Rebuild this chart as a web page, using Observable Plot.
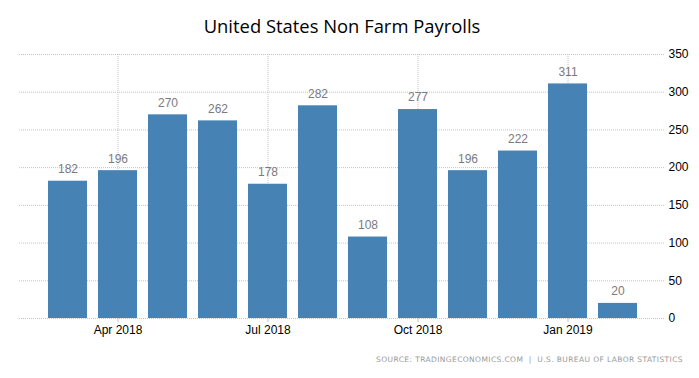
<!DOCTYPE html>
<html>
<head>
<meta charset="utf-8">
<script src="https://cdn.jsdelivr.net/npm/d3@7"></script>
<script src="https://cdn.jsdelivr.net/npm/@observablehq/plot@0.6"></script>
<style>
  html, body { margin: 0; padding: 0; background: #fff; }
  #wrap { width: 699px; height: 378px; position: relative; overflow: hidden; }
  #title { height: 40px; width: 684px; text-align: center; font-family: "Open Sans", sans-serif; font-size: 18.4px; line-height: 20px; color: #000; box-sizing: border-box; padding-top: 16px; }
  #caption { position: absolute; right: 16px; top: 355px; font-family: "DejaVu Sans", sans-serif; font-size: 7.5px; letter-spacing: 0.4px; color: #999; white-space: pre; }
  svg { display: block; }
</style>
</head>
<body>
<div id="wrap">
  <div id="title">United States Non Farm Payrolls</div>
  <div id="chart"></div>
  <div id="caption">SOURCE: TRADINGECONOMICS.COM  |  U.S. BUREAU OF LABOR STATISTICS</div>
</div>
<script>
const months = ["2018-03","2018-04","2018-05","2018-06","2018-07","2018-08","2018-09","2018-10","2018-11","2018-12","2019-01","2019-02"];
const payrolls = [182, 196, 270, 262, 178, 282, 108, 277, 196, 222, 311, 20];
const tickMonths = ["2018-04","2018-07","2018-10","2019-01"];
const tickLabels = ["Apr 2018","Jul 2018","Oct 2018","Jan 2019"];
const yTicks = [0, 50, 100, 150, 200, 250, 300, 350];

const data = months.map((m, i) => ({month: m, value: payrolls[i]}));
const labelOf = new Map(tickMonths.map((m, i) => [m, tickLabels[i]]));

const chart = Plot.plot({
  width: 699,
  height: 303,
  marginTop: 14,
  marginBottom: 25,
  marginLeft: 19,
  marginRight: 34,
  style: {fontFamily: "'Liberation Sans', Arial, sans-serif", fontSize: "12px", background: "#fff", color: "#000"},
  x: {type: "band", domain: months, paddingInner: 0.22, paddingOuter: 0.57},
  y: {domain: [0, 350]},
  marks: [
    Plot.ruleY(yTicks, {stroke: "#c4c4c4", strokeDasharray: "1,1", strokeOpacity: 1}),
    Plot.ruleX(tickMonths, {x: d => d, stroke: "#c4c4c4", strokeDasharray: "1,1", strokeOpacity: 1}),
    Plot.barY(data, {x: "month", y: "value", fill: "#4682b4"}),
    Plot.text(data, {x: "month", y: "value", text: d => String(d.value), dy: -12, fill: "#7a7a80", fontSize: 12}),
    Plot.axisX({ticks: tickMonths, tickFormat: d => labelOf.get(d), tickSize: 4, tickPadding: 3, stroke: "#c4c4c4", strokeOpacity: 1, fill: "#000", label: null}),
    Plot.axisY({anchor: "right", ticks: yTicks, tickSize: 0, tickPadding: 3, fill: "#000", label: null, textAnchor: "start"})
  ]
});
document.getElementById("chart").appendChild(chart);
</script>
</body>
</html>
